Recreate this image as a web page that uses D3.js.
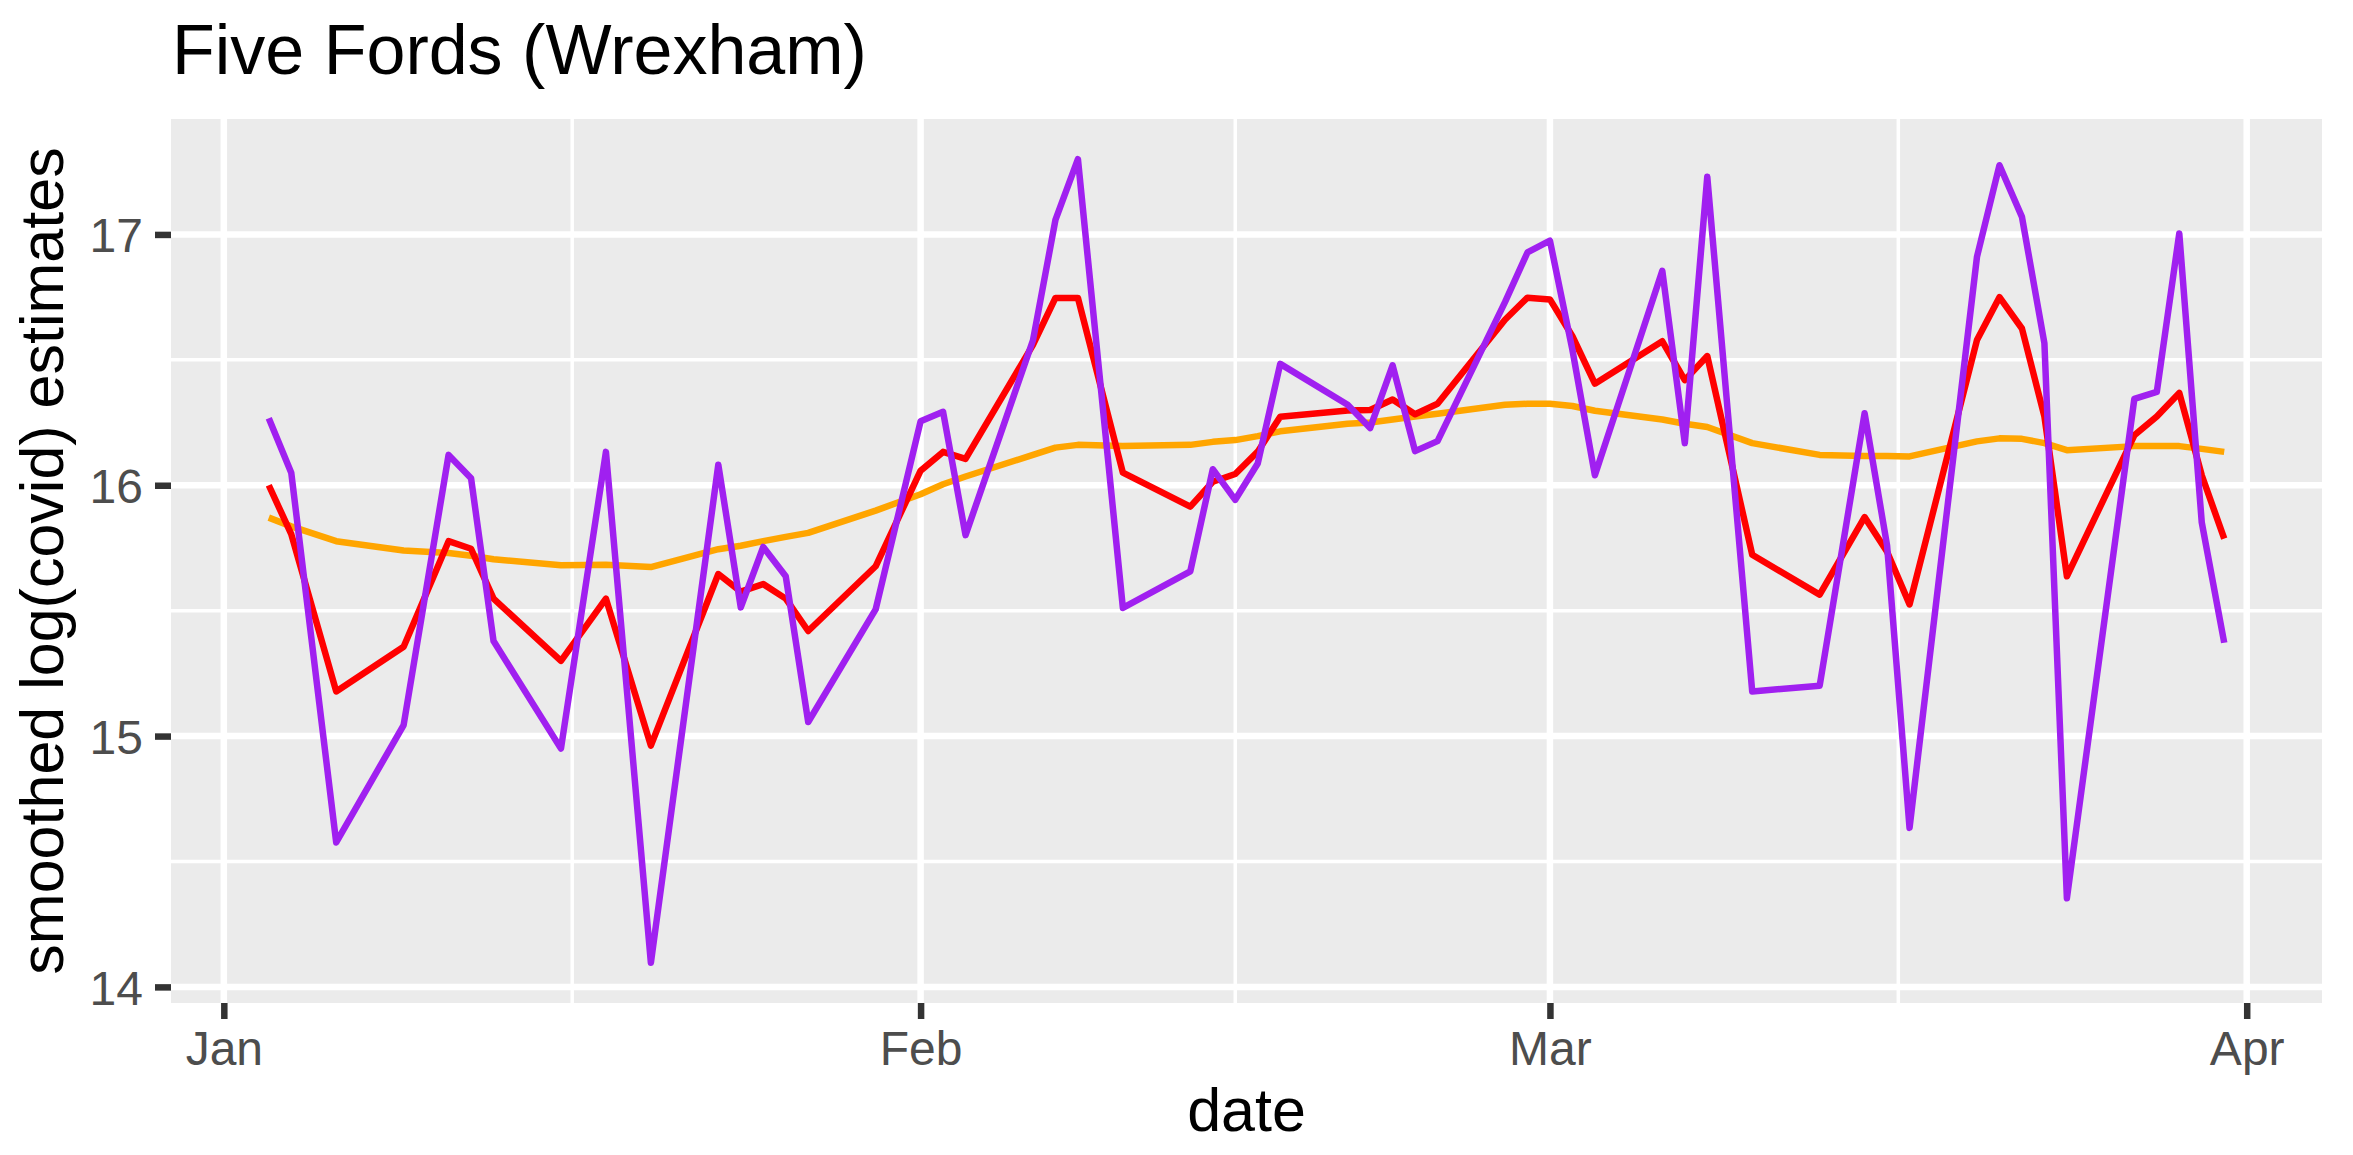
<!DOCTYPE html>
<html>
<head>
<meta charset="utf-8">
<script src="https://cdn.jsdelivr.net/npm/d3@7"></script>
<style>
  body { margin: 0; background: #fff; }
  text { font-family: "Liberation Sans", Arial, sans-serif; }
</style>
</head>
<body>
<div id="content"></div>
<script>
// sample dates (2021)
const dates = [
    '2021-01-03', '2021-01-04', '2021-01-06', '2021-01-09', '2021-01-11', '2021-01-12', '2021-01-13',
    '2021-01-16', '2021-01-18', '2021-01-20', '2021-01-23', '2021-01-24', '2021-01-25', '2021-01-26',
    '2021-01-27', '2021-01-30', '2021-02-01', '2021-02-02', '2021-02-03', '2021-02-06', '2021-02-07',
    '2021-02-08', '2021-02-10', '2021-02-13', '2021-02-14', '2021-02-15', '2021-02-16', '2021-02-17',
    '2021-02-20', '2021-02-21', '2021-02-22', '2021-02-23', '2021-02-24', '2021-02-27', '2021-02-28',
    '2021-03-01', '2021-03-02', '2021-03-03', '2021-03-06', '2021-03-07', '2021-03-08', '2021-03-10',
    '2021-03-13', '2021-03-15', '2021-03-16', '2021-03-17', '2021-03-20', '2021-03-21', '2021-03-22',
    '2021-03-23', '2021-03-24', '2021-03-27', '2021-03-28', '2021-03-29', '2021-03-30', '2021-03-31'
];

// purple
const rawEstimates = [
    16.267, 16.05, 14.576, 15.044, 16.121, 16.028, 15.379,
    14.95, 16.133, 14.096, 16.082, 15.513, 15.754, 15.637,
    15.056, 15.505, 16.255, 16.293, 15.801, 16.578, 17.058,
    17.30, 15.511, 15.657, 16.064, 15.942, 16.087, 16.484,
    16.321, 16.228, 16.478, 16.136, 16.176, 16.73, 16.928,
    16.975, 16.54, 16.04, 16.855, 16.168, 17.23, 15.178,
    15.201, 16.287, 15.76, 14.634, 16.911, 17.276, 17.07,
    16.566, 14.353, 16.344, 16.372, 17.004, 15.852, 15.372
];

// red
const shortSmooth = [
    16.00, 15.805, 15.178, 15.356, 15.777, 15.747, 15.548,
    15.30, 15.548, 14.962, 15.646, 15.576, 15.606, 15.548,
    15.419, 15.677, 16.058, 16.133, 16.105, 16.56, 16.747,
    16.747, 16.05, 15.915, 16.014, 16.045, 16.134, 16.273,
    16.298, 16.30, 16.342, 16.283, 16.325, 16.66, 16.748,
    16.741, 16.594, 16.405, 16.574, 16.419, 16.515, 15.723,
    15.564, 15.873, 15.735, 15.525, 16.579, 16.75, 16.625,
    16.274, 15.637, 16.199, 16.274, 16.368, 16.04, 15.787
];

// orange
const longSmooth = [
    15.871, 15.836, 15.777, 15.740, 15.730, 15.719, 15.705,
    15.681, 15.683, 15.674, 15.745, 15.759, 15.777, 15.794,
    15.81, 15.899, 15.964, 16.004, 16.035, 16.121, 16.15,
    16.161, 16.156, 16.161, 16.173, 16.18, 16.196, 16.215,
    16.245, 16.25, 16.262, 16.274, 16.285, 16.321, 16.325,
    16.325, 16.316, 16.297, 16.262, 16.245, 16.232, 16.168,
    16.121, 16.117, 16.117, 16.115, 16.175, 16.187, 16.185,
    16.168, 16.14, 16.156, 16.156, 16.156, 16.145, 16.133
];

const xBreaks = ['2021-01-01', '2021-02-01', '2021-03-01', '2021-04-01'];
const xLabels = ['Jan', 'Feb', 'Mar', 'Apr'];
const yBreaks = [14, 15, 16, 17];

const parse = d3.utcParse('%Y-%m-%d');
const W = 2353, H = 1155;
const panel = { left: 171, right: 2322, top: 119, bottom: 1003 };

const days = dates.map(parse);
const series = [
    { values: longSmooth, color: '#FFA500' },
    { values: shortSmooth, color: '#FF0000' },
    { values: rawEstimates, color: '#A020F0' }
];

// ggplot style 5% expansion
function expand(ext) {
    const pad = (ext[1] - ext[0]) * 0.05;
    return [ext[0] - pad, ext[1] + pad];
}

const tExt = d3.extent(days).map(d => +d);
const x = d3.scaleUtc()
    .domain(expand(tExt).map(t => new Date(t)))
    .range([panel.left, panel.right]);

const allVals = [].concat(rawEstimates, shortSmooth, longSmooth);
const y = d3.scaleLinear()
    .domain(expand(d3.extent(allVals)))
    .range([panel.bottom, panel.top]);

const svg = d3.select('#content').append('svg')
    .attr('width', W)
    .attr('height', H);

svg.append('rect')
    .attr('width', W).attr('height', H)
    .attr('fill', '#fff');

svg.append('rect')
    .attr('x', panel.left).attr('y', panel.top)
    .attr('width', panel.right - panel.left)
    .attr('height', panel.bottom - panel.top)
    .attr('fill', '#EBEBEB');

const xMajor = xBreaks.map(parse);
const xMinor = d3.pairs(xMajor).map(p => new Date((+p[0] + +p[1]) / 2));
const yMinor = d3.pairs(yBreaks).map(p => (p[0] + p[1]) / 2);

const grid = svg.append('g').attr('stroke', '#fff');

grid.selectAll('line.ymin').data(yMinor).enter().append('line')
    .attr('x1', panel.left).attr('x2', panel.right)
    .attr('y1', d => y(d)).attr('y2', d => y(d))
    .attr('stroke-width', 3.5);
grid.selectAll('line.xmin').data(xMinor).enter().append('line')
    .attr('y1', panel.top).attr('y2', panel.bottom)
    .attr('x1', d => x(d)).attr('x2', d => x(d))
    .attr('stroke-width', 3.5);
grid.selectAll('line.ymaj').data(yBreaks).enter().append('line')
    .attr('x1', panel.left).attr('x2', panel.right)
    .attr('y1', d => y(d)).attr('y2', d => y(d))
    .attr('stroke-width', 6.5);
grid.selectAll('line.xmaj').data(xMajor).enter().append('line')
    .attr('y1', panel.top).attr('y2', panel.bottom)
    .attr('x1', d => x(d)).attr('x2', d => x(d))
    .attr('stroke-width', 6.5);

const line = d3.line()
    .x((d, i) => x(days[i]))
    .y(d => y(d));

svg.selectAll('path.series').data(series).enter().append('path')
    .classed('series', true)
    .attr('d', s => line(s.values))
    .attr('fill', 'none')
    .attr('stroke', s => s.color)
    .attr('stroke-width', 6.5)
    .attr('stroke-linejoin', 'round')
    .attr('stroke-linecap', 'butt');

// axes
const xAxis = d3.axisBottom(x)
    .tickValues(xMajor)
    .tickFormat((d, i) => xLabels[i])
    .tickSize(16)
    .tickPadding(14);
const gx = svg.append('g')
    .attr('transform', `translate(0,${panel.bottom})`)
    .call(xAxis);

const yAxis = d3.axisLeft(y)
    .tickValues(yBreaks)
    .tickFormat(d3.format('d'))
    .tickSize(16)
    .tickPadding(12);
const gy = svg.append('g')
    .attr('transform', `translate(${panel.left},0)`)
    .call(yAxis);

[gx, gy].forEach(g => {
    g.select('.domain').remove();
    g.selectAll('.tick line').attr('stroke', '#333333').attr('stroke-width', 6.5);
    g.selectAll('.tick text')
        .attr('fill', '#4D4D4D')
        .style('font-size', '48px')
        .style('font-family', '"Liberation Sans", Arial, sans-serif');
});
gx.selectAll('.tick text').attr('dy', null).attr('y', 62);
gy.selectAll('.tick text').attr('dy', '0.36em');

svg.append('text')
    .attr('x', (panel.left + panel.right) / 2)
    .attr('y', 1131)
    .attr('text-anchor', 'middle')
    .style('font-size', '61px')
    .text('date');

svg.append('text')
    .attr('transform', `translate(63,${(panel.top + panel.bottom) / 2}) rotate(-90)`)
    .attr('text-anchor', 'middle')
    .style('font-size', '61px')
    .text('smoothed log(covid) estimates');

svg.append('text')
    .attr('x', panel.left + 1)
    .attr('y', 74)
    .style('font-size', '70px')
    .text('Five Fords (Wrexham)');
</script>
</body>
</html>
